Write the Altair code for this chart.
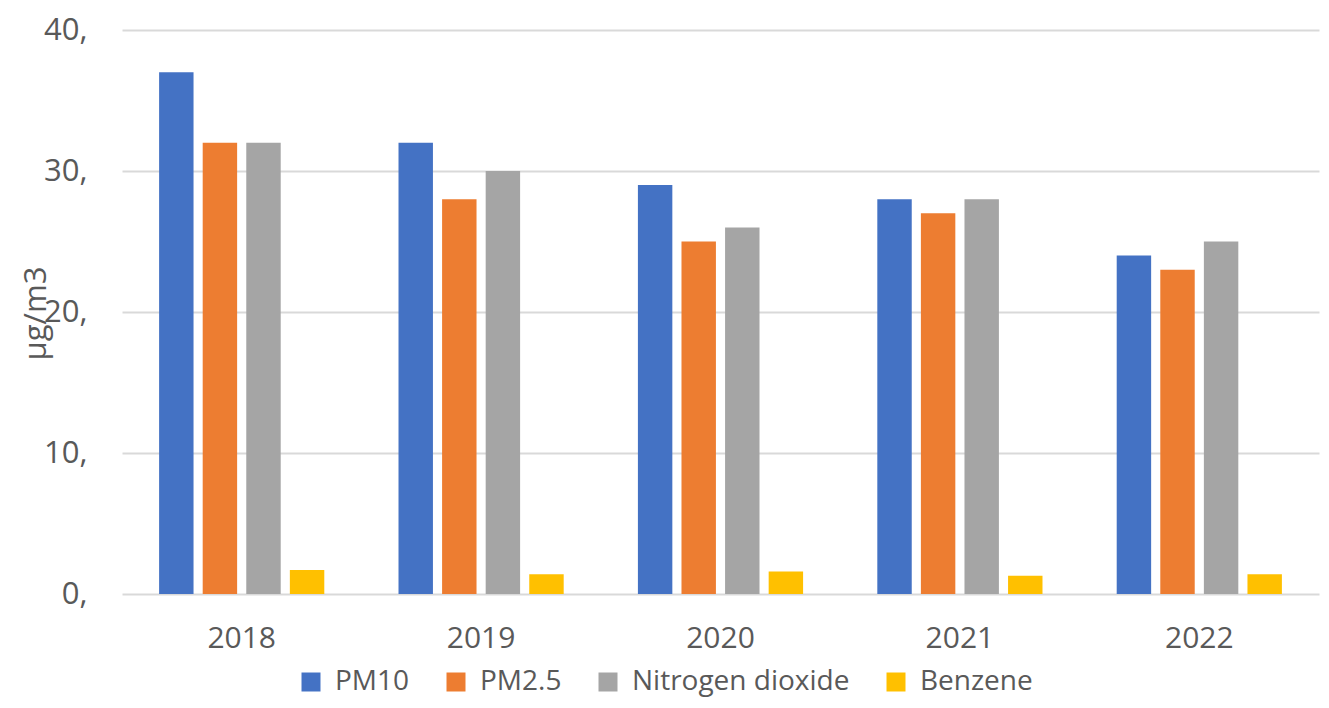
import altair as alt
import pandas as pd

years = ["2018", "2019", "2020", "2021", "2022"]
pollutants = ["PM10", "PM2.5", "Nitrogen dioxide", "Benzene"]
pm10 = [37, 32, 29, 28, 24]
pm25 = [32, 28, 25, 27, 23]
no2 = [32, 30, 26, 28, 25]
benzene = [1.7, 1.4, 1.6, 1.3, 1.4]
colors = ["#4472C4", "#ED7D31", "#A5A5A5", "#FFC000"]

rows = []
for name, vals in zip(pollutants, [pm10, pm25, no2, benzene]):
    for y, v in zip(years, vals):
        rows.append({"year": y, "pollutant": name, "value": v})
df = pd.DataFrame(rows)

FONT = "Open Sans"
TXT = "#595959"

chart = alt.Chart(df).mark_bar().encode(
    x=alt.X("year:N", sort=years,
            scale=alt.Scale(paddingInner=0.31, paddingOuter=0.155),
            axis=alt.Axis(title=None, labelAngle=0, labelFontSize=30, labelFont=FONT,
                          labelColor=TXT, ticks=False, domain=False, labelPadding=29)),
    xOffset=alt.XOffset("pollutant:N", sort=pollutants,
                        scale=alt.Scale(paddingInner=0.21, paddingOuter=0)),
    y=alt.Y("value:Q", scale=alt.Scale(domain=[0, 40], nice=False),
            axis=alt.Axis(title="µg/m3", values=[0, 10, 20, 30, 40], format="d",
                          labelExpr="datum.label + ','",
                          labelFontSize=31, labelFont=FONT, labelColor=TXT,
                          labelPadding=35, ticks=False, domain=False,
                          gridColor="#D9D9D9", gridWidth=2,
                          titleFontSize=31, titleFont=FONT, titleColor=TXT,
                          titleFontWeight="normal", titleAngle=-90,
                          titleX=-77, titleY=283, titleAlign="center",
                          titleBaseline="alphabetic")),
    color=alt.Color("pollutant:N", sort=pollutants,
                    scale=alt.Scale(domain=pollutants, range=colors),
                    legend=alt.Legend(title=None, orient="none", direction="horizontal",
                                      legendX=175, legendY=638,
                                      symbolType="square", symbolSize=361,
                                      symbolStrokeWidth=0, labelFontSize=28,
                                      labelFont=FONT, labelColor=TXT, labelLimit=500,
                                      labelOffset=10, columnPadding=32)),
).properties(
    width=1197, height=564,
    padding={"left": 114, "top": 22, "right": 2, "bottom": 106},
    autosize=alt.AutoSizeParams(type="none"),
).configure(background="white").configure_view(stroke=None)

chart.save("out.html", embed_options={"renderer": "svg", "actions": False})
